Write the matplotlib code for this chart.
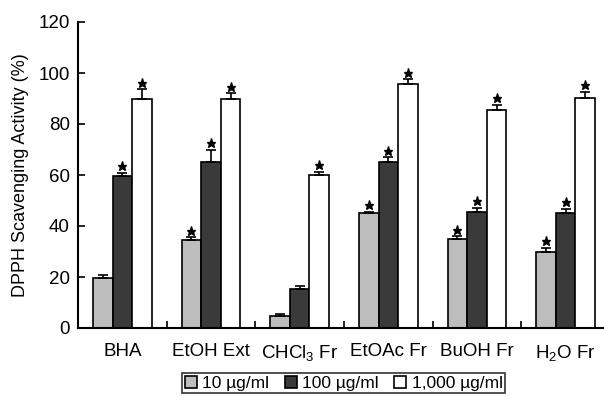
import matplotlib
matplotlib.use("Agg")
import matplotlib.pyplot as plt
import numpy as np

plt.rcParams['font.family'] = ['Liberation Sans', 'DejaVu Sans']

categories = ['BHA', 'EtOH Ext', 'CHCl$\\mathregular{_3}$ Fr', 'EtOAc Fr', 'BuOH Fr', 'H$\\mathregular{_2}$O Fr']
series_names = ['10 \u00b5g/ml', '100 \u00b5g/ml', '1,000 \u00b5g/ml']
values = [
    [19.6, 34.6, 4.8, 45.0, 34.8, 30.0],
    [59.8, 65.0, 15.2, 65.0, 45.4, 45.0],
    [90.0, 90.0, 60.0, 95.6, 85.5, 90.1],
]
errors = [
    [1.0, 0.9, 0.7, 0.6, 1.1, 1.4],
    [1.0, 4.9, 1.4, 2.0, 1.7, 1.8],
    [3.6, 2.0, 1.3, 1.9, 2.0, 2.6],
]
significant = [
    [False, True, False, True, True, True],
    [True, True, False, True, True, True],
    [True, True, True, True, True, True],
]
colors = ['#bdbdbd', '#3a3a3a', '#ffffff']
yticks = [0, 20, 40, 60, 80, 100, 120]

fig = plt.figure(figsize=(6.04, 3.96), dpi=100)
ax = fig.add_axes([78/604, 68/396, 532/604, 306/396])

x = np.arange(len(categories))
w = 0.22
for i in range(3):
    xs = x + (i - 1) * w
    vals = np.array(values[i])
    errs = np.array(errors[i])
    ax.bar(xs, vals, width=w, color=colors[i], edgecolor='black', linewidth=1.2,
           yerr=[np.zeros_like(errs), errs], capsize=3.5,
           error_kw=dict(ecolor='black', elinewidth=1.2, capthick=1.2))
    for xv, v, e, s in zip(xs, vals, errs, significant[i]):
        if s:
            ax.plot(xv, v + e + 2.6, marker='*', color='black', markersize=6.5,
                    linestyle='none', clip_on=False)

ax.set_xlim(-0.5, 5.5)
ax.set_ylim(0, 120)
ax.set_yticks(yticks)
ax.set_xticks(x)
ax.set_xticklabels(categories, fontsize=13.5)
ax.tick_params(axis='x', which='major', length=0, pad=11)
ax.set_xticks(np.arange(0.5, 5.5, 1.0), minor=True)
ax.tick_params(axis='x', which='minor', direction='in', length=5, width=1.2)
ax.tick_params(axis='y', direction='in', length=5, width=1.2, labelsize=13.5, pad=6)
for sp in ['top', 'right']:
    ax.spines[sp].set_visible(False)
for sp in ['left', 'bottom']:
    ax.spines[sp].set_linewidth(1.5)
ax.set_ylabel('DPPH Scavenging Activity (%)', fontsize=13, labelpad=7)

handles = [plt.Rectangle((0, 0), 1, 1, facecolor=c, edgecolor='black', linewidth=1.2) for c in colors]
leg = fig.legend(handles, series_names, loc='upper center', bbox_to_anchor=(0.569, 0.058),
                 ncol=3, fontsize=12.5, frameon=True, fancybox=False, edgecolor='black',
                 handlelength=0.7, handleheight=0.7, handletextpad=0.3, columnspacing=0.9,
                 borderpad=0.15, borderaxespad=0)
leg.get_frame().set_linewidth(1.2)

fig.savefig('out.png', dpi=100)
